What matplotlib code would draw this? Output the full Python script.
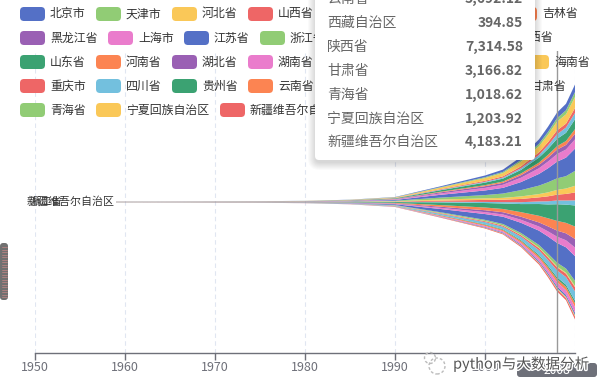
import numpy as np
import matplotlib
matplotlib.use("Agg")
import matplotlib.pyplot as plt
from matplotlib.patches import FancyBboxPatch, Circle
from matplotlib.transforms import IdentityTransform
import matplotlib.patheffects as pe

plt.rcParams['font.family'] = ['Noto Sans CJK SC', 'DejaVu Sans']

# provinces in legend / layer order
provinces = ['北京市', '天津市', '河北省', '山西省', '内蒙古自治区', '辽宁省', '吉林省',
             '黑龙江省', '上海市', '江苏省', '浙江省', '安徽省', '福建省', '江西省',
             '山东省', '河南省', '湖北省', '湖南省', '广东省', '广西壮族自治区', '海南省',
             '重庆市', '四川省', '贵州省', '云南省', '西藏自治区', '陕西省', '甘肃省',
             '青海省', '宁夏回族自治区', '新疆维吾尔自治区']

years = [1959, 1965, 1970, 1975, 1980, 1985, 1990, 1995, 2000, 2002, 2004, 2006, 2007, 2008, 2009, 2010]

# GDP (亿元) per year, same order as provinces
gdp_1959 = [70, 55, 105, 58, 33, 125, 48, 95, 150, 105, 58, 58, 33, 43, 105, 82, 68, 67, 88, 34, 8, 34, 98, 29, 34, 3, 39, 34, 8, 5, 19]
gdp_1965 = [80, 62, 118, 62, 38, 132, 56, 110, 170, 122, 70, 66, 38, 50, 120, 92, 78, 77, 102, 40, 9, 38, 108, 31, 38, 4, 45, 38, 9, 6, 24]
gdp_1970 = [92, 68, 140, 70, 44, 168, 66, 135, 205, 160, 90, 82, 46, 58, 160, 120, 105, 100, 132, 50, 11, 44, 128, 36, 47, 5, 55, 48, 11, 8, 30]
gdp_1975 = [99, 76, 165, 80, 50, 200, 74, 158, 245, 215, 110, 100, 58, 75, 195, 145, 135, 128, 160, 64, 14, 55, 152, 40, 58, 6, 70, 58, 13, 11, 34]
gdp_1980 = [139, 103, 219, 108, 68, 281, 98, 221, 312, 320, 180, 141, 87, 111, 292, 229, 199, 192, 250, 97, 19, 83, 229, 60, 84, 9, 95, 74, 18, 16, 53]
gdp_1985 = [257, 175, 397, 219, 163, 518, 200, 355, 466, 652, 429, 332, 200, 207, 681, 451, 396, 350, 577, 181, 43, 151, 421, 124, 165, 18, 181, 123, 33, 31, 112]
gdp_1990 = [500, 311, 896, 429, 319, 1063, 425, 715, 782, 1417, 905, 658, 522, 428, 1511, 935, 824, 744, 1559, 449, 102, 327, 890, 260, 452, 28, 404, 242, 70, 65, 274]
gdp_1995 = [1508, 932, 2850, 1077, 833, 2793, 1137, 2014, 2499, 5155, 3558, 2004, 2095, 1170, 5002, 2988, 2109, 2132, 5934, 1498, 363, 1123, 2443, 636, 1223, 56, 1036, 553, 167, 175, 815]
gdp_2000 = [3162, 1702, 5044, 1846, 1540, 4669, 1952, 3151, 4771, 8554, 6141, 2902, 3765, 2003, 8337, 5053, 3546, 3551, 10741, 2080, 527, 1603, 4010, 1030, 2011, 118, 1804, 1052, 264, 295, 1364]
gdp_2002 = [4315, 2150, 6018, 2325, 1941, 5458, 2348, 3637, 5741, 10607, 8004, 3520, 4468, 2450, 10276, 6035, 4213, 4152, 13502, 2524, 621, 1971, 4725, 1243, 2313, 162, 2254, 1232, 341, 377, 1612]
gdp_2004 = [6033, 3111, 8478, 3571, 3041, 6672, 3122, 4751, 8072, 15004, 11649, 4760, 6053, 3457, 15022, 8554, 5633, 5642, 18865, 3434, 799, 2693, 6380, 1678, 3082, 220, 3176, 1688, 466, 538, 2209]
gdp_2006 = [8118, 4463, 11468, 4879, 4944, 9305, 4275, 6212, 10572, 21742, 15718, 6113, 7584, 4821, 21900, 12363, 7617, 7689, 26588, 4829, 1065, 3907, 8690, 2339, 3989, 291, 4744, 2277, 648, 725, 3045]
gdp_2007 = [9846, 5253, 13710, 6024, 6423, 11164, 5285, 7104, 12494, 26018, 18754, 7361, 9249, 5800, 25777, 15012, 9333, 9440, 31777, 5956, 1254, 4676, 10562, 2884, 4773, 342, 5758, 2702, 797, 919, 3523]
gdp_2008 = [10488.03, 6354.38, 16188.61, 7315.40, 8496.20, 13668.58, 6426.10, 8314.37, 14069.86, 30981.98, 21462.69, 8851.66, 10823.01, 6971.05, 30933.28, 18018.53, 11328.92, 11555.00, 36796.71, 7021.00, 1503.06, 5793.66, 12601.23, 3561.56, 5692.12, 394.85, 7314.58, 3166.82, 1018.62, 1203.92, 4183.21]
gdp_2009 = [12153, 7522, 17235, 7358, 9740, 15212, 7278, 8587, 15046, 34457, 22990, 10063, 12237, 7655, 33896, 19480, 12961, 13060, 39483, 7759, 1654, 6530, 14151, 3913, 6170, 441, 8170, 3388, 1081, 1353, 4277]
gdp_2010 = [14113.58, 9224.46, 20394.26, 9200.86, 11672.00, 18457.27, 8667.58, 10368.60, 17165.98, 41425.48, 27722.31, 12359.33, 14737.12, 9451.26, 39169.92, 23092.36, 15967.61, 16037.96, 46013.06, 9569.85, 2064.50, 7925.58, 17185.48, 4602.16, 7224.18, 507.46, 10123.48, 4120.75, 1350.43, 1689.65, 5437.47]

tooltip_year = 2008

palette = ['#5470c6', '#91cc75', '#fac858', '#ee6666', '#73c0de',
           '#3ba272', '#fc8452', '#9a60b4', '#ea7ccc']
colors = [palette[i % len(palette)] for i in range(len(provinces))]

table = np.array([gdp_1959, gdp_1965, gdp_1970, gdp_1975, gdp_1980, gdp_1985,
                  gdp_1990, gdp_1995, gdp_2000, gdp_2002, gdp_2004, gdp_2006,
                  gdp_2007, gdp_2008, gdp_2009, gdp_2010]).T

W, H = 613, 389
fig = plt.figure(figsize=(W / 100, H / 100), dpi=100)
fig.patch.set_facecolor('white')
ID = IdentityTransform()

def px(x, y):
    return x, H - y

# main axes
ax = fig.add_axes([35 / W, 1 - 353 / H, (575 - 35) / W, (353 - 51) / H])
ax.set_xlim(1950, 2010)
lim = 280800
ax.set_ylim(-lim, lim)

# stream (北京 on top -> reversed for stackplot)
ax.stackplot(years, table[::-1], colors=colors[::-1], baseline='sym',
             linewidth=0, zorder=2)

for yr in range(1950, 2011, 10):
    ax.axvline(yr, color='#E0E6F1', lw=0.8, ls=(0, (4, 3)), zorder=0)

for s in ['top', 'left', 'right']:
    ax.spines[s].set_visible(False)
ax.spines['bottom'].set_color('#6E7079')
ax.spines['bottom'].set_linewidth(1)
ax.set_yticks([])
ax.set_xticks(range(1950, 2001, 10))
ax.tick_params(axis='x', colors='#6E7079', length=5, width=1, pad=1, labelsize=9)

# axis pointer
ax.axvline(tooltip_year, color='#999999', lw=1, zorder=4)

# overlapping layer labels at the stream start
ax.annotate('新疆维吾尔自治区', xy=(years[0], 0), xytext=(-1, 0), textcoords='offset points',
            ha='right', va='center', fontsize=7.9, color='#333333')
fig.text(*px(30, 202), '浙江省', transform=ID, ha='left', va='center',
         fontsize=7.9, color='#333333')

# legend
x, row = 20, 0
for name, c in zip(provinces, colors):
    w = 25 + 5 + 12 * len(name)
    if x + w > 600:
        x, row = 20, row + 1
    yc = 14 + 24 * row
    fig.add_artist(FancyBboxPatch(px(x, yc + 7), 25, 14, boxstyle='round,pad=0,rounding_size=4',
                                  fc=c, ec='none', transform=ID, zorder=3))
    fig.text(*px(x + 30, yc), name, transform=ID, ha='left', va='center',
             fontsize=8.6, color='#333333', zorder=3)
    x += w + 10

# tooltip
bx0, bx1, by0, by1 = 315, 535, -20, 160
for i in range(8, 0, -1):
    fig.add_artist(FancyBboxPatch(px(bx0 - i + 1, by1 + i + 2), bx1 - bx0 + 2 * i - 2, by1 - by0 + 2 * i,
                                  boxstyle='round,pad=0,rounding_size=%d' % (4 + i),
                                  fc='black', ec='none', alpha=0.018, transform=ID, zorder=8))
fig.add_artist(FancyBboxPatch(px(bx0, by1), bx1 - bx0, by1 - by0, boxstyle='round,pad=0,rounding_size=4',
                              fc='white', ec='none', transform=ID, zorder=9))
idx = years.index(tooltip_year)
for k, p in enumerate(range(24, 31)):
    yc = -1 + 23.9 * k
    fig.text(*px(327, yc), provinces[p], transform=ID, ha='left', va='center',
             fontsize=10, color='#666666', zorder=10)
    fig.text(*px(523, yc), f'{table[p, idx]:,.2f}', transform=ID, ha='right', va='center',
             fontsize=10, color='#666666', fontweight='bold', zorder=10)

# axis pointer label
fig.add_artist(FancyBboxPatch(px(517, 377), 80, 14, boxstyle='round,pad=0,rounding_size=3',
                              fc='#6E7079', ec='none', transform=ID, zorder=9))
fig.text(*px(557, 370), str(tooltip_year), transform=ID, ha='center', va='center',
         fontsize=8.6, color='white', zorder=10)

# scrollbar thumb on the left
fig.add_artist(FancyBboxPatch(px(0, 300), 8, 57, boxstyle='round,pad=0,rounding_size=3',
                              fc='#707070', ec='none', transform=ID, zorder=9))
for yy in np.arange(247, 298, 2.5):
    fig.add_artist(plt.Line2D([1.5, 6.5], [H - yy, H - yy], color='#d98a8a', lw=0.4,
                              transform=ID, zorder=10))

# watermark
fig.add_artist(Circle(px(437, 366), 8, fill=False, ec='#bbbbbb', lw=1, ls=(0, (2, 1.5)),
                      transform=ID, zorder=11))
fig.add_artist(Circle(px(430, 358), 5.5, fill=False, ec='#bbbbbb', lw=1, ls=(0, (2, 1.5)),
                      transform=ID, zorder=11))
fig.text(*px(453, 364), 'python与大数据分析', transform=ID, ha='left', va='center',
         fontsize=10.5, color='#555555', zorder=12,
         path_effects=[pe.withStroke(linewidth=2, foreground='white')])

fig.savefig('out.png', dpi=100)
